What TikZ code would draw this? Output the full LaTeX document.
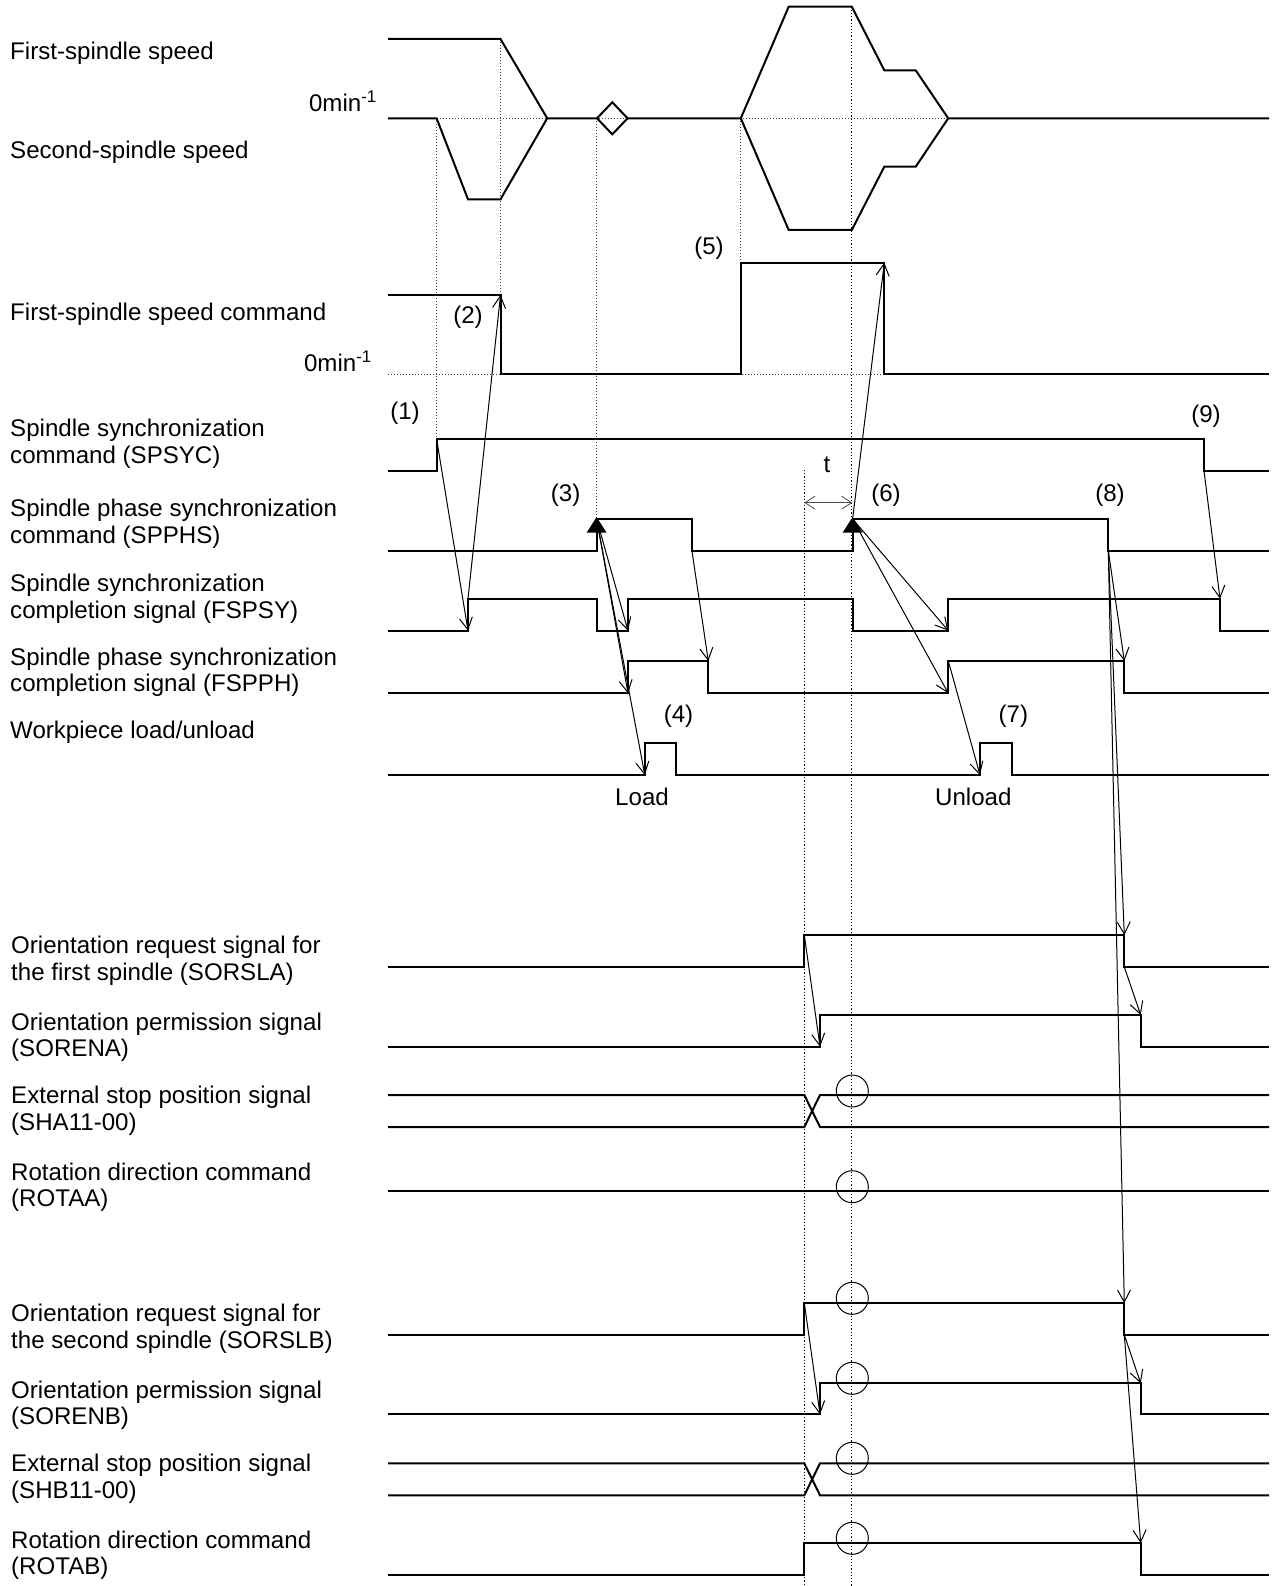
\documentclass[tikz,border=0pt]{standalone}
\usepackage{fontspec}
\setmainfont{Liberation Sans}
\usetikzlibrary{arrows.meta}
\begin{document}
\begin{tikzpicture}[x=1pt,y=-1pt,
  sig/.style={line width=2pt, line join=miter},
  arr/.style={line width=1pt, -{Straight Barb[length=12pt,width=13pt]}},
  dotg/.style={line width=0.9pt, dash pattern=on 1pt off 2pt, black!75},
  dotk/.style={line width=1.1pt, dash pattern=on 1.2pt off 2pt, black},
  txt/.style={font=\fontsize{24.1}{26.7}\selectfont, inner sep=0pt},
  lab/.style={txt, anchor=base west},
  num/.style={txt, anchor=center},
  tri/.style={fill=black},
  cir/.style={line width=1pt}]
\useasboundingbox (0,0) rectangle (1271,1586);

% ---------- left labels ----------
\node[lab] (l1) at (10,60) {First-spindle speed};
\node[txt, anchor=base east] (z1) at (377,111.7) {0min\textsuperscript{-1}};
\node[lab] (l2) at (10,158.3) {Second-spindle speed};
\node[lab] (l3) at (10,320) {First-spindle speed command};
\node[txt, anchor=base east] (z2) at (372,371.7) {0min\textsuperscript{-1}};
\node[lab] (l4a) at (10,436.7) {Spindle synchronization};
\node[lab] (l4b) at (10,463.3) {command (SPSYC)};
\node[lab] (l5a) at (10,516.7) {Spindle phase synchronization};
\node[lab] (l5b) at (10,543.3) {command (SPPHS)};
\node[lab] (l6a) at (10,591.7) {Spindle synchronization};
\node[lab] (l6b) at (10,618.3) {completion signal (FSPSY)};
\node[lab] (l7a) at (10,665) {Spindle phase synchronization};
\node[lab] (l7b) at (10,691.7) {completion signal (FSPPH)};
\node[lab] (l8) at (10,738.3) {Workpiece load/unload};
\node[lab] (l9a) at (11,953.3) {Orientation request signal for};
\node[lab] (l9b) at (11,980) {the first spindle (SORSLA)};
\node[lab] (l10a) at (11,1030) {Orientation permission signal};
\node[lab] (l10b) at (11,1056.7) {(SORENA)};
\node[lab] (l11a) at (11,1103.3) {External stop position signal};
\node[lab] (l11b) at (11,1130) {(SHA11-00)};
\node[lab] (l12a) at (11,1180) {Rotation direction command};
\node[lab] (l12b) at (11,1206.7) {(ROTAA)};
\node[lab] (l13a) at (11,1321.3) {Orientation request signal for};
\node[lab] (l13b) at (11,1348) {the second spindle (SORSLB)};
\node[lab] (l14a) at (11,1398) {Orientation permission signal};
\node[lab] (l14b) at (11,1424.7) {(SORENB)};
\node[lab] (l15a) at (11,1471.3) {External stop position signal};
\node[lab] (l15b) at (11,1498) {(SHB11-00)};
\node[lab] (l16a) at (11,1548) {Rotation direction command};
\node[lab] (l16b) at (11,1574.7) {(ROTAB)};

% ---------- step labels ----------
\node[num] (n1) at (405,413) {(1)};
\node[num] (n2) at (468,317) {(2)};
\node[num] (n3) at (565.6,495) {(3)};
\node[num] (n4) at (678.5,716.7) {(4)};
\node[num] (n5) at (709,248) {(5)};
\node[num] (n6) at (886,495) {(6)};
\node[num] (n7) at (1013.3,716.7) {(7)};
\node[num] (n8) at (1110,495) {(8)};
\node[num] (n9) at (1206,416.7) {(9)};
\node[num] (nt) at (827,465) {t};
\node[num] (nload) at (642,796.7) {Load};
\node[num] (nunload) at (973.3,796.7) {Unload};

% ---------- dotted guides ----------
\draw[dotg] (436.6,118.3) -- (948.2,118.3);
\draw[dotg] (388,374.3) -- (1269,374.3);
\draw[dotg] (436.6,118.3) -- (436.6,439);
\draw[dotg] (500.5,39) -- (500.5,295);
\draw[dotg] (596.6,118.3) -- (596.6,519);
\draw[dotg] (740.8,118.3) -- (740.8,262.7);
\draw[dotk] (851.8,6.7) -- (851.8,1586);
\draw[dotk] (804.3,470) -- (804.3,1586);

% ---------- speeds ----------
\draw[sig] (388,39) -- (500.5,39) -- (547.2,118.3) -- (597,118.3);
\draw[sig] (627.6,118.3) -- (740.8,118.3) -- (788.7,6.7) -- (851.8,6.7) -- (884.3,70.3) -- (915.7,70.3) -- (948.2,118.3) -- (1269,118.3);
\draw[sig] (388,118.3) -- (436.6,118.3) -- (468,199.3) -- (500.5,199.3) -- (547.2,118.3);
\draw[sig] (740.8,118.3) -- (788.7,230) -- (851.8,230) -- (884.3,166.7) -- (915.7,166.7) -- (948.2,118.3);
\draw[sig] (597,118.3) -- (612.3,102.3) -- (627.6,118.3) -- (612.3,134.3) -- cycle;

% ---------- speed command ----------
\draw[sig] (388,295) -- (500.5,295) -- (500.5,374.3) -- (740.8,374.3) -- (740.8,262.7) -- (884.3,262.7) -- (884.3,374.3) -- (1269,374.3);

% ---------- SPSYC ----------
\draw[sig] (388,470.7) -- (436.6,470.7) -- (436.6,439) -- (1204,439) -- (1204,470.7) -- (1269,470.7);
% ---------- SPPHS ----------
\draw[sig] (388,550.7) -- (596.6,550.7) -- (596.6,519) -- (691.9,519) -- (691.9,550.7) -- (852.6,550.7) -- (852.6,519) -- (1108.3,519) -- (1108.3,550.7) -- (1269,550.7);
% ---------- FSPSY ----------
\draw[sig] (388,630.7) -- (468,630.7) -- (468,598.7) -- (596.6,598.7) -- (596.6,630.7) -- (628,630.7) -- (628,598.7) -- (852.6,598.7) -- (852.6,630.7) -- (948.3,630.7) -- (948.3,598.7) -- (1220,598.7) -- (1220,630.7) -- (1269,630.7);
% ---------- FSPPH ----------
\draw[sig] (388,693.3) -- (628,693.3) -- (628,661) -- (708.3,661) -- (708.3,693.3) -- (948.3,693.3) -- (948.3,661) -- (1124.3,661) -- (1124.3,693.3) -- (1269,693.3);
% ---------- Workpiece ----------
\draw[sig] (388,775) -- (644.8,775) -- (644.8,743) -- (675.8,743) -- (675.8,775) -- (980,775) -- (980,743) -- (1012.3,743) -- (1012.3,775) -- (1269,775);

% ---------- first spindle orientation ----------
\draw[sig] (388,967) -- (804.3,967) -- (804.3,935) -- (1124.3,935) -- (1124.3,967) -- (1269,967);
\draw[sig] (388,1046.7) -- (820,1046.7) -- (820,1015) -- (1140.7,1015) -- (1140.7,1046.7) -- (1269,1046.7);
\draw[sig] (388,1095) -- (804.3,1095) -- (820,1127) -- (1269,1127);
\draw[sig] (388,1127) -- (804.3,1127) -- (820,1095) -- (1269,1095);
\draw[sig] (388,1191) -- (1269,1191);

% ---------- second spindle orientation ----------
\draw[sig] (388,1335) -- (804.3,1335) -- (804.3,1303) -- (1124.3,1303) -- (1124.3,1335) -- (1269,1335);
\draw[sig] (388,1414.3) -- (820,1414.3) -- (820,1383.3) -- (1140.7,1383.3) -- (1140.7,1414.3) -- (1269,1414.3);
\draw[sig] (388,1463.3) -- (804.3,1463.3) -- (820,1495.3) -- (1269,1495.3);
\draw[sig] (388,1495.3) -- (804.3,1495.3) -- (820,1463.3) -- (1269,1463.3);
\draw[sig] (388,1575) -- (804.3,1575) -- (804.3,1543) -- (1140.7,1543) -- (1140.7,1575) -- (1269,1575);

% ---------- circles ----------
\foreach \cy in {1091,1186.7,1298.3,1378.3,1458.3,1538.3}
  \draw[cir] (852.3,\cy) circle[radius=16];

% ---------- triangles ----------
\fill[tri] (596.6,517) -- (606.6,532.7) -- (586.6,532.7) -- cycle;
\fill[tri] (852.6,517) -- (862.6,532.7) -- (842.6,532.7) -- cycle;

% ---------- arrow end points ----------
\coordinate (spsycR) at (436.6,439);
\coordinate (fspsyR1b) at (468,630.7);
\coordinate (fspsyR1t) at (468,598.7);
\coordinate (cmdF1) at (500.5,295);
\coordinate (tri3) at (596.6,519);
\coordinate (fspsyR2b) at (628,630.7);
\coordinate (fspphR1b) at (628,693.3);
\coordinate (wpR1b) at (644.8,775);
\coordinate (spphsF1) at (691.9,550.7);
\coordinate (fspphF1t) at (708.3,661);
\coordinate (tri6) at (852.6,519);
\coordinate (cmdF2) at (884.3,262.7);
\coordinate (fspsyR3b) at (948.3,630.7);
\coordinate (fspphR2b) at (948.3,693.3);
\coordinate (fspphR2t) at (948.3,661);
\coordinate (wpR2b) at (980,775);
\coordinate (spsycF) at (1204,470.7);
\coordinate (fspsyF3t) at (1220,598.7);
\coordinate (spphsF2) at (1108.3,550.7);
\coordinate (fspphF2t) at (1124.3,661);
\coordinate (sorslaFt) at (1124.3,935);
\coordinate (sorslaFb) at (1124.3,967);
\coordinate (sorenaFt) at (1140.7,1015);
\coordinate (sorslbFt) at (1124.3,1303);
\coordinate (sorslbFb) at (1124.3,1335);
\coordinate (sorenbFt) at (1140.7,1383.3);
\coordinate (rotabFt) at (1140.7,1543);
\coordinate (sorslaR) at (804.3,935);
\coordinate (sorenaRb) at (820,1046.7);
\coordinate (sorslbR) at (804.3,1303);
\coordinate (sorenbRb) at (820,1414.3);
\coordinate (tL) at (804.3,502.7);
\coordinate (tR) at (852.3,502.7);

% ---------- arrows ----------
\draw[arr] (spsycR) -- (fspsyR1b);
\draw[arr] (fspsyR1t) -- (cmdF1);
\draw[arr] (tri3) -- (fspsyR2b);
\draw[arr] (tri3) -- (fspphR1b);
\draw[arr] (tri3) -- (wpR1b);
\draw[arr] (spphsF1) -- (fspphF1t);
\draw[arr] (tri6) -- (cmdF2);
\draw[arr] (tri6) -- (fspsyR3b);
\draw[arr] (tri6) -- (fspphR2b);
\draw[arr] (fspphR2t) -- (wpR2b);
\draw[arr] (spsycF) -- (fspsyF3t);
\draw[arr] (spphsF2) -- (fspphF2t);
\draw[arr] (spphsF2) -- (sorslaFt);
\draw[arr] (spphsF2) -- (sorslbFt);
\draw[arr] (sorslaFb) -- (sorenaFt);
\draw[arr] (sorslbFb) -- (sorenbFt);
\draw[arr] (sorslbFb) -- (rotabFt);
\draw[arr] (sorslaR) -- (sorenaRb);
\draw[arr] (sorslbR) -- (sorenbRb);
\draw[line width=0.8pt, black!70, {Straight Barb[length=10pt,width=13pt]}-{Straight Barb[length=10pt,width=13pt]}] (tL) -- (tR);
\end{tikzpicture}
\end{document}
